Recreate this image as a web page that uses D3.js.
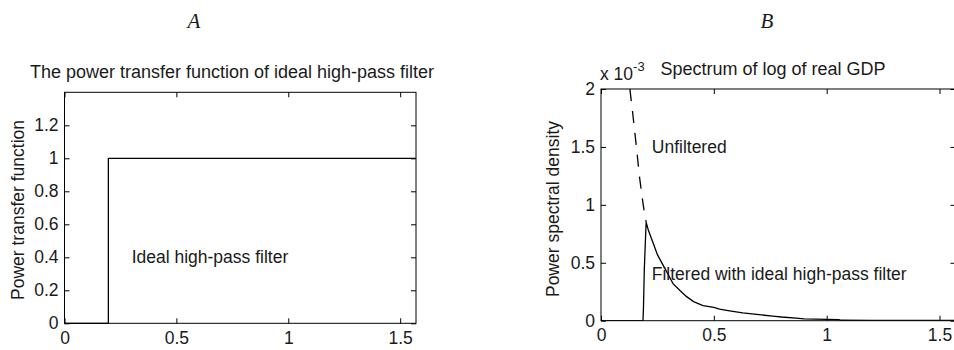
<!DOCTYPE html>
<html>
<head>
<meta charset="utf-8">
<script src="https://cdn.jsdelivr.net/npm/d3@7"></script>
<style>
  body { margin: 0; background: #fff; }
  svg text { font-family: "Liberation Sans", Arial, sans-serif; fill: #1a1a1a; }
</style>
</head>
<body>
<div id="chart"></div>
<script>
// panel A: ideal high-pass filter gain
const freqA = [0, 0.196, 0.196, 1.5708];
const gainA = [0, 0, 1, 1];
const ticksAx = [0, 0.5, 1, 1.5];
const ticksAy = [0, 0.2, 0.4, 0.6, 0.8, 1, 1.2];

// panel B: spectrum of log real GDP (x 10^-3)
const freqUnfilt = [0.118, 0.128, 0.14, 0.157, 0.17, 0.187, 0.2];
const psdUnfilt = [2.3, 2.0, 1.8, 1.5, 1.25, 1.0, 0.85];
const freqFilt = [0, 0.186, 0.188, 0.192, 0.2, 0.21, 0.231, 0.25, 0.275, 0.3, 0.319, 0.35, 0.378, 0.41, 0.452, 0.5, 0.525, 0.57, 0.628, 0.7, 0.761, 0.8, 0.864, 0.9, 1.0, 1.055, 1.06, 1.2, 1.4, 1.5708];
const psdFilt = [0, 0, 0.1, 0.45, 0.85, 0.78, 0.67, 0.57, 0.48, 0.39, 0.32, 0.26, 0.21, 0.165, 0.13, 0.115, 0.1, 0.085, 0.068, 0.052, 0.04, 0.032, 0.023, 0.016, 0.012, 0.01, 0.004, 0.003, 0.002, 0.002];
const ticksBx = [0, 0.5, 1, 1.5];
const ticksBy = [0, 0.5, 1, 1.5, 2];

const svg = d3.select('#chart').append('svg')
    .attr('width', 954)
    .attr('height', 350);

const fs = 17.5;

function drawAxes(g, x, y, xt, yt, fmtY) {
  const [x0, x1] = x.range();
  const [y0, y1] = y.range();
  // bottom / top / left / right, ticks pointing inward
  g.append('g').attr('transform', 'translate(0,' + y0 + ')')
      .call(d3.axisBottom(x).tickValues(xt).tickSizeInner(-5).tickSizeOuter(0).tickPadding(8).tickFormat(d3.format('')))
      .call(a => a.select('.domain').remove());
  g.append('g').attr('transform', 'translate(0,' + y1 + ')')
      .call(d3.axisTop(x).tickValues(xt).tickSizeInner(-5).tickSizeOuter(0).tickFormat(''))
      .call(a => a.select('.domain').remove());
  g.append('g').attr('transform', 'translate(' + x0 + ',0)')
      .call(d3.axisLeft(y).tickValues(yt).tickSizeInner(-5).tickSizeOuter(0).tickPadding(6).tickFormat(fmtY))
      .call(a => a.select('.domain').remove());
  g.append('g').attr('transform', 'translate(' + x1 + ',0)')
      .call(d3.axisRight(y).tickValues(yt).tickSizeInner(-5).tickSizeOuter(0).tickFormat(''))
      .call(a => a.select('.domain').remove());
  g.selectAll('.tick line').attr('stroke', '#000');
  g.selectAll('.tick text').attr('font-size', fs).attr('font-family', null);
  g.append('rect')
      .attr('x', x0).attr('y', y1)
      .attr('width', x1 - x0).attr('height', y0 - y1)
      .attr('fill', 'none').attr('stroke', '#000').attr('stroke-width', 1);
}

// ---- panel A ----
const xA = d3.scaleLinear().domain([0, Math.PI / 2]).range([64.5, 416]);
const yA = d3.scaleLinear().domain([0, 1.4]).range([323.3, 92.3]);
const gA = svg.append('g');
drawAxes(gA, xA, yA, ticksAx, ticksAy, d3.format(''));

gA.append('path')
    .datum(freqA.map((f, i) => [f, gainA[i]]))
    .attr('fill', 'none').attr('stroke', '#000').attr('stroke-width', 1.3)
    .attr('d', d3.line().x(d => xA(d[0])).y(d => yA(d[1])));

gA.append('text').attr('x', xA(0.3)).attr('y', yA(0.4))
    .attr('dominant-baseline', 'central').attr('font-size', fs)
    .text('Ideal high-pass filter');
gA.append('text').attr('x', 232).attr('y', 78.3).attr('text-anchor', 'middle').attr('font-size', 18)
    .text('The power transfer function of ideal high-pass filter');
gA.append('text').attr('transform', 'translate(24,210) rotate(-90)').attr('text-anchor', 'middle').attr('font-size', fs)
    .text('Power transfer function');

// ---- panel B ----
const xB = d3.scaleLinear().domain([0, Math.PI / 2]).range([601, 955.5]);
const yB = d3.scaleLinear().domain([0, 2]).range([320.7, 89]);
const gB = svg.append('g');
drawAxes(gB, xB, yB, ticksBx, ticksBy, d3.format(''));

svg.append('clipPath').attr('id', 'clipB').append('rect')
    .attr('x', 601).attr('y', 89).attr('width', 354.5).attr('height', 231.7);

const lineB = d3.line().x(d => xB(d[0])).y(d => yB(d[1]));
gB.append('path')
    .datum(freqUnfilt.map((f, i) => [f, psdUnfilt[i]]))
    .attr('clip-path', 'url(#clipB)')
    .attr('fill', 'none').attr('stroke', '#000').attr('stroke-width', 1.3)
    .attr('stroke-dasharray', '12,10')
    .attr('stroke-dashoffset', 9)
    .attr('d', lineB);
gB.append('path')
    .datum(freqFilt.map((f, i) => [f, psdFilt[i]]))
    .attr('clip-path', 'url(#clipB)')
    .attr('fill', 'none').attr('stroke', '#000').attr('stroke-width', 1.3)
    .attr('d', lineB);

gB.append('text').attr('x', xB(0.225)).attr('y', yB(1.5))
    .attr('dominant-baseline', 'central').attr('font-size', fs).text('Unfiltered');
gB.append('text').attr('x', xB(0.225)).attr('y', yB(0.4))
    .attr('dominant-baseline', 'central').attr('font-size', fs).text('Filtered with ideal high-pass filter');
gB.append('text').attr('x', 773).attr('y', 75).attr('text-anchor', 'middle').attr('font-size', 18)
    .text('Spectrum of log of real GDP');
const expo = gB.append('text').attr('x', 600).attr('y', 80).attr('font-size', fs);
expo.append('tspan').text('x 10');
expo.append('tspan').attr('dy', -9).attr('font-size', 13).text('-3');
gB.append('text').attr('transform', 'translate(559,209) rotate(-90)').attr('text-anchor', 'middle').attr('font-size', fs)
    .text('Power spectral density');

// panel letters
svg.append('text').attr('x', 194).attr('y', 28).attr('text-anchor', 'middle')
    .style('font-family', '"Liberation Serif", "Times New Roman", serif').style('font-style', 'italic')
    .attr('font-size', 21).text('A');
svg.append('text').attr('x', 767).attr('y', 28).attr('text-anchor', 'middle')
    .style('font-family', '"Liberation Serif", "Times New Roman", serif').style('font-style', 'italic')
    .attr('font-size', 21).text('B');
</script>
</body>
</html>
